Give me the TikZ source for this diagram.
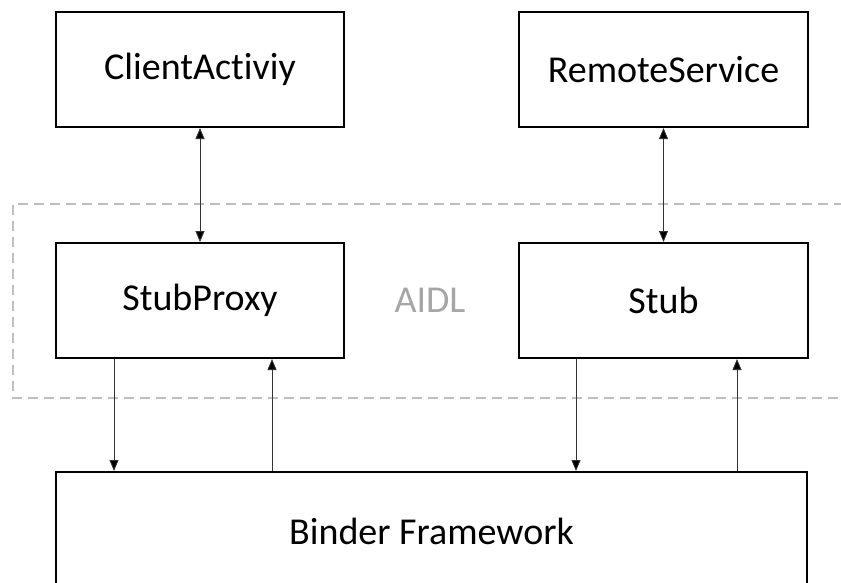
\documentclass[tikz,border=0pt]{standalone}
\usepackage{fontspec}
\setmainfont[Ligatures={NoCommon}]{Carlito}
\usetikzlibrary{arrows.meta}
\definecolor{framegray}{HTML}{BFBFBF}
\definecolor{labelgray}{HTML}{A6A6A6}
\tikzset{
  block/.style={draw=black, line width=2pt, fill=white, rectangle, inner sep=0pt,
    font=\fontsize{38}{42}\selectfont},
  link/.style={line width=0.8pt, draw=black!80,
    arrows={-Triangle[length=11pt,width=9pt,fill=black]}},
  dlink/.style={link, arrows={Triangle[length=11pt,width=9pt,fill=black]-Triangle[length=11pt,width=9pt,fill=black]}},
  layer/.style={draw=framegray, line width=2pt, dash pattern=on 10pt off 6pt}
}
\begin{document}
\begin{tikzpicture}[x=1pt,y=-1pt]
  \useasboundingbox (0,0) rectangle (841,582);
  % AIDL layer
  \draw[layer] (860,204) -- (13,204) -- (13,398) -- (860,398);
  \node[text=labelgray, font=\fontsize{38}{42}\selectfont] (aidl) at (430,300) {AIDL};
  % components
  \node[block, minimum width=288pt, minimum height=115pt] (client) at (200,69.5) {ClientActiviy};
  \node[block, minimum width=289pt, minimum height=115pt] (remote) at (663.5,69.5) {RemoteService};
  \node[block, minimum width=288pt, minimum height=115pt] (proxy) at (200,300.5) {StubProxy};
  \node[block, minimum width=289pt, minimum height=115pt] (stub) at (663.5,300.5) {Stub};
  \node[block, minimum width=751pt, minimum height=118pt] (binder) at (431.5,531) {Binder Framework};
  % connectors
  \draw[dlink] (client.south) -- (proxy.north);
  \draw[dlink] (remote.south) -- (stub.north);
  \draw[link] ([xshift=59pt]proxy.south west) -- ([xshift=59pt]proxy.south west |- binder.north);
  \draw[link] ([xshift=217pt]binder.north west) -- ([xshift=217pt]binder.north west |- proxy.south);
  \draw[link] ([xshift=58pt]stub.south west) -- ([xshift=58pt]stub.south west |- binder.north);
  \draw[link] ([xshift=682pt]binder.north west) -- ([xshift=682pt]binder.north west |- stub.south);
\end{tikzpicture}
\end{document}
